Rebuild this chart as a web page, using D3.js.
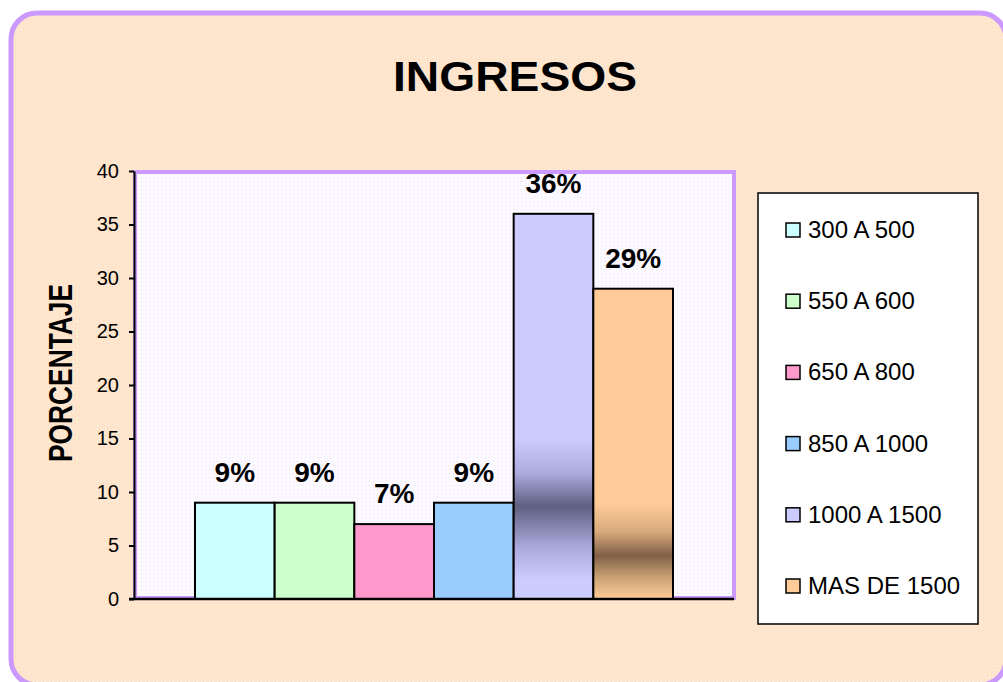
<!DOCTYPE html>
<html>
<head>
<meta charset="utf-8">
<script src="https://cdn.jsdelivr.net/npm/d3@7"></script>
<style>
  body { margin: 0; background: #fff; }
  svg text { font-family: "Liberation Sans", Arial, sans-serif; }
</style>
</head>
<body>
<div id="chart"></div>
<script>
const categories = ["300 A 500", "550 A 600", "650 A 800", "850 A 1000", "1000 A 1500", "MAS DE 1500"];
const values = [9, 9, 7, 9, 36, 29];
const labels = ["9%", "9%", "7%", "9%", "36%", "29%"];
const colors = ["#ccffff", "#ccffcc", "#ff99cc", "#99ccff", "#ccccff", "#ffcc99"];
const yTicks = [0, 5, 10, 15, 20, 25, 30, 35, 40];

const W = 1003, H = 682;
const plot = {left: 134, top: 171, right: 734, bottom: 599};

const svg = d3.select("#chart").append("svg")
    .attr("width", W)
    .attr("height", H);

const defs = svg.append("defs");

// dotted backgrounds
const p1 = defs.append("pattern").attr("id", "peach")
    .attr("width", 4).attr("height", 4).attr("patternUnits", "userSpaceOnUse");
p1.append("rect").attr("width", 4).attr("height", 4).attr("fill", "#ffe4cc");
p1.append("rect").attr("x", 1).attr("y", 1).attr("width", 1).attr("height", 1).attr("fill", "#fff4ea");

const p2 = defs.append("pattern").attr("id", "lav")
    .attr("width", 4).attr("height", 4).attr("patternUnits", "userSpaceOnUse");
p2.append("rect").attr("width", 4).attr("height", 4).attr("fill", "#fdfaff");
p2.append("rect").attr("x", 1).attr("y", 1).attr("width", 1).attr("height", 1).attr("fill", "#ece0ff");

// outer rounded frame
svg.append("rect")
    .attr("x", 11).attr("y", 13)
    .attr("width", 995).attr("height", 672)
    .attr("rx", 26)
    .attr("fill", "url(#peach)")
    .attr("stroke", "#cc99ff")
    .attr("stroke-width", 5);

// title
svg.append("text")
    .attr("x", 515).attr("y", 91)
    .attr("text-anchor", "middle")
    .attr("textLength", 244)
    .attr("lengthAdjust", "spacingAndGlyphs")
    .style("font-size", "42px")
    .style("font-weight", "bold")
    .text("INGRESOS");

const y = d3.scaleLinear().domain([0, 40]).range([plot.bottom, plot.top]);
const x = d3.scaleBand().domain(categories)
    .range([195, 673]).padding(0);

// plot area
svg.append("rect")
    .attr("x", plot.left + 1).attr("y", plot.top + 1)
    .attr("width", plot.right - plot.left - 1)
    .attr("height", plot.bottom - plot.top - 2)
    .attr("fill", "url(#lav)")
    .attr("stroke", "#cc99ff")
    .attr("stroke-width", 4);

// gradients for the two tall bars (band artefacts of the original)
const g5 = defs.append("linearGradient").attr("id", "g5")
    .attr("gradientUnits", "userSpaceOnUse")
    .attr("x1", 0).attr("x2", 0).attr("y1", y(15)).attr("y2", y(0));
[[0, "#ccccff"], [0.22, "#aaaadd"], [0.42, "#5f5f80"], [0.68, "#aaaadd"], [0.88, "#ccccff"], [1, "#ccccff"]]
    .forEach(s => g5.append("stop").attr("offset", s[0]).attr("stop-color", s[1]));

const g6 = defs.append("linearGradient").attr("id", "g6")
    .attr("gradientUnits", "userSpaceOnUse")
    .attr("x1", 0).attr("x2", 0).attr("y1", y(9)).attr("y2", y(0));
[[0, "#ffcc99"], [0.3, "#d8aa7c"], [0.55, "#806048"], [0.8, "#d0a878"], [1, "#ffcc99"]]
    .forEach(s => g6.append("stop").attr("offset", s[0]).attr("stop-color", s[1]));

const fills = colors.map((c, i) => i === 4 ? "url(#g5)" : i === 5 ? "url(#g6)" : c);

svg.append("g")
    .selectAll("rect")
    .data(values)
    .join("rect")
    .attr("x", (d, i) => x(categories[i]))
    .attr("y", d => y(d))
    .attr("width", x.bandwidth())
    .attr("height", d => y(0) - y(d))
    .attr("fill", (d, i) => fills[i])
    .attr("stroke", "#000")
    .attr("stroke-width", 2);

// data labels
svg.append("g")
    .selectAll("text")
    .data(values)
    .join("text")
    .attr("x", (d, i) => x(categories[i]) + x.bandwidth() / 2)
    .attr("y", d => y(d) - 21)
    .attr("text-anchor", "middle")
    .style("font-size", "28px")
    .style("font-weight", "bold")
    .text((d, i) => labels[i]);

// y axis
const yAxis = svg.append("g")
    .attr("transform", `translate(${plot.left},0)`)
    .call(d3.axisLeft(y).tickValues(yTicks).tickSize(5).tickSizeOuter(0));
yAxis.select(".domain").attr("stroke", "#000").attr("stroke-width", 2);
yAxis.selectAll(".tick line").attr("stroke", "#000").attr("stroke-width", 2);
yAxis.selectAll(".tick text")
    .attr("x", -15)
    .style("font-size", "20px")
    .style("font-family", "Liberation Sans, Arial, sans-serif")
    .attr("fill", "#000");

// x axis line
svg.append("line")
    .attr("x1", plot.left - 5).attr("x2", plot.right)
    .attr("y1", plot.bottom).attr("y2", plot.bottom)
    .attr("stroke", "#000").attr("stroke-width", 2.5);

// y title
svg.append("text")
    .attr("transform", `translate(72,${(plot.top + plot.bottom) / 2 - 12}) rotate(-90)`)
    .attr("text-anchor", "middle")
    .attr("textLength", 178)
    .attr("lengthAdjust", "spacingAndGlyphs")
    .style("font-size", "33px")
    .style("font-weight", "bold")
    .text("PORCENTAJE");

// legend
const legend = svg.append("g").attr("transform", "translate(758,193)");
legend.append("rect")
    .attr("width", 220).attr("height", 431)
    .attr("fill", "#fff")
    .attr("stroke", "#000").attr("stroke-width", 1.5);

const item = legend.selectAll("g.item")
    .data(categories)
    .join("g")
    .attr("class", "item")
    .attr("transform", (d, i) => `translate(0,${37 + i * 71.2})`);
item.append("rect")
    .attr("x", 28).attr("y", -7)
    .attr("width", 14).attr("height", 14)
    .attr("fill", (d, i) => colors[i])
    .attr("stroke", "#000").attr("stroke-width", 1.5);
item.append("text")
    .attr("x", 50).attr("y", 8)
    .style("font-size", "24px")
    .text(d => d);
</script>
</body>
</html>
